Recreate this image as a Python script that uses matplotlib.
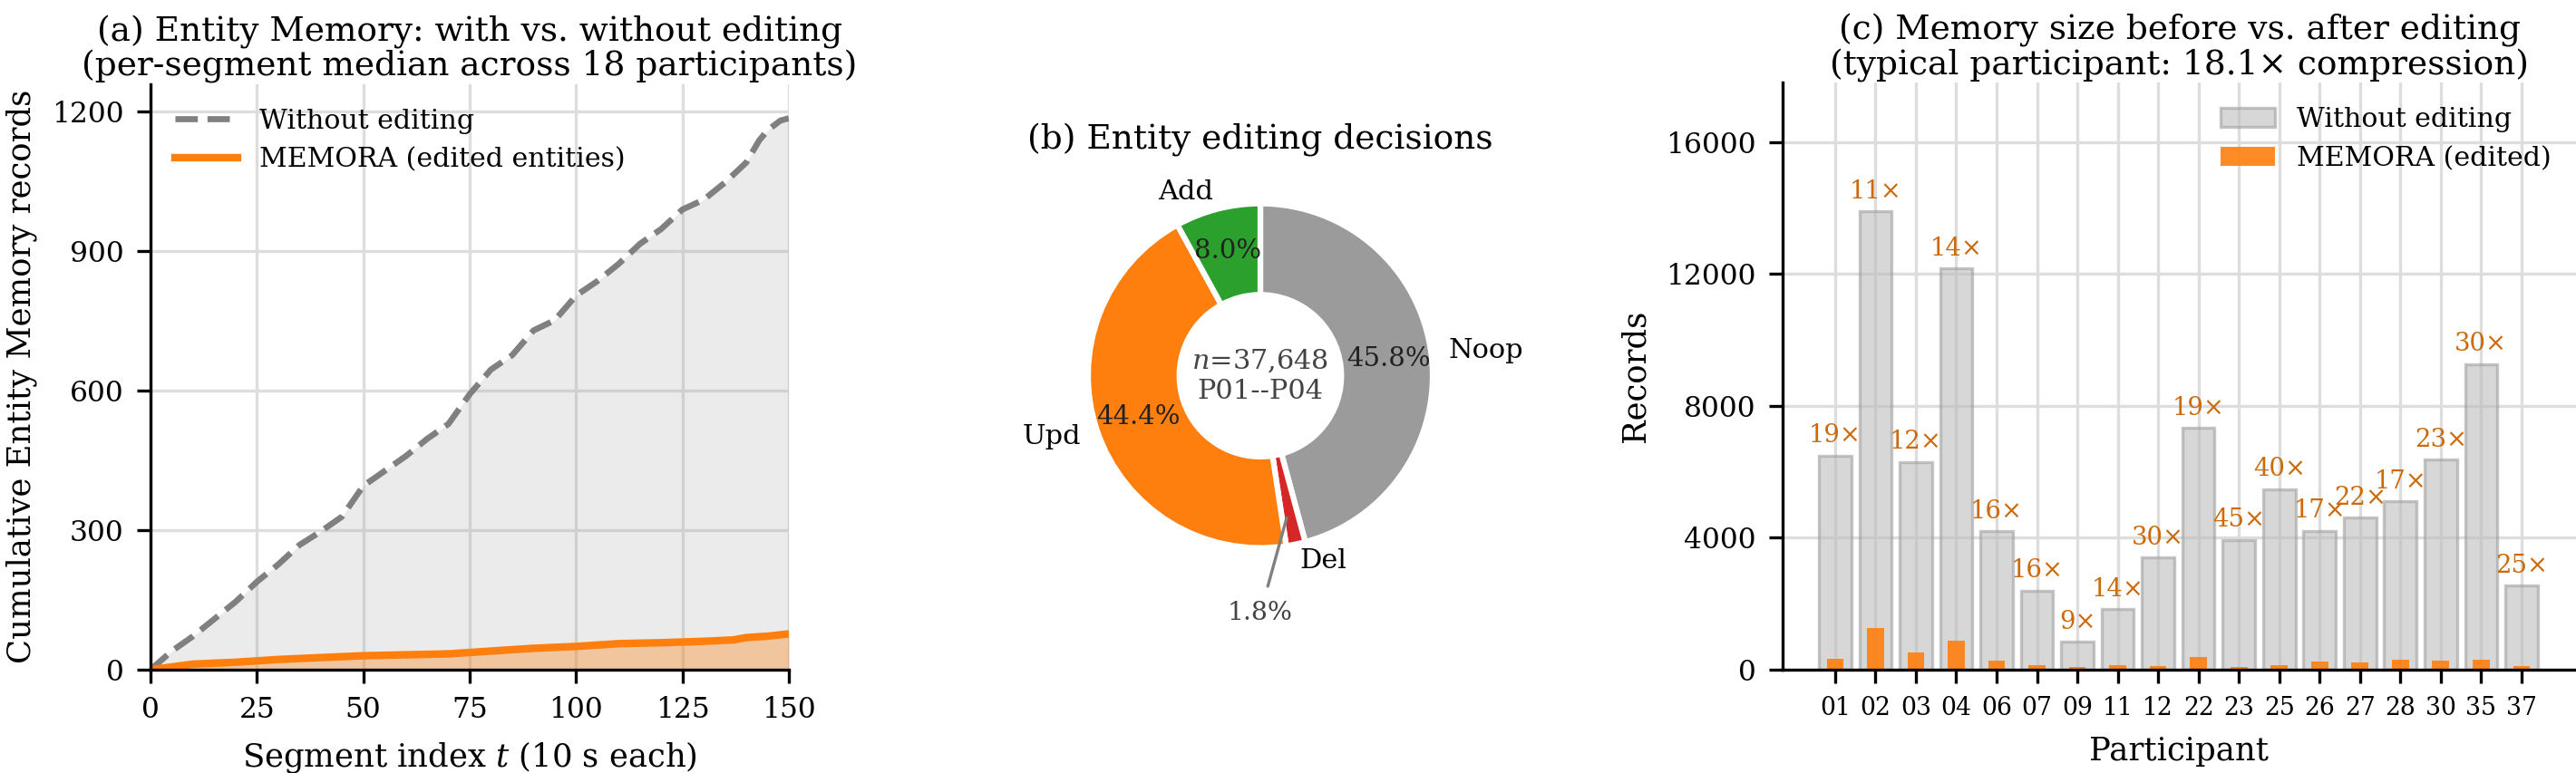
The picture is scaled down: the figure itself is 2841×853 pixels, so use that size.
import numpy as np
import matplotlib
matplotlib.use("Agg")
import matplotlib.pyplot as plt

plt.rcParams.update({
    "font.family": "serif",
    "font.serif": ["DejaVu Serif"],
    "mathtext.fontset": "dejavuserif",
    "font.size": 8,
    "axes.linewidth": 0.8,
    "xtick.direction": "out",
    "ytick.direction": "out",
    "xtick.major.width": 0.8,
    "ytick.major.width": 0.8,
    "xtick.major.size": 3.5,
    "ytick.major.size": 3.5,
    "xtick.labelsize": 7.5,
    "ytick.labelsize": 7.5,
})

# --------------------------
# Data
# --------------------------
# (a) per-segment median cumulative records
seg_without = [0, 5, 10, 15, 20, 25, 30, 35, 40, 45, 50, 55, 60, 65, 70, 75,
               80, 85, 90, 95, 100, 105, 110, 115, 120, 125, 130, 135, 140,
               143, 145, 148, 150]
rec_without = [0, 40, 72, 109, 146, 189, 226, 268, 297, 329, 395, 427, 459,
               496, 528, 592, 645, 676, 729, 751, 804, 835, 872, 915, 947,
               989, 1010, 1047, 1090, 1137, 1159, 1180, 1185]
seg_memora = [0, 10, 20, 30, 40, 50, 60, 70, 80, 90, 100, 110, 120, 130,
              137, 140, 145, 150]
rec_memora = [0, 12, 16, 22, 26, 30, 32, 34, 40, 46, 50, 56, 58, 61, 64, 69,
              72, 77]

# (b) editing decisions
decision_labels = ["Noop", "Del", "Upd", "Add"]
decision_share = [45.8, 1.8, 44.4, 8.0]
decision_colors = ["#9b9b9b", "#d62728", "#ff7f0e", "#2ca02c"]
n_decisions = "37,648"

# (c) memory size per participant
participants = ["01", "02", "03", "04", "06", "07", "09", "11", "12", "22",
                "23", "25", "26", "27", "28", "30", "35", "37"]
records_before = [6500, 13900, 6300, 12180, 4200, 2400, 840, 1840, 3400, 7340,
                  3940, 5480, 4210, 4610, 5100, 6380, 9270, 2550]
records_after = [342, 1264, 525, 870, 262, 150, 93, 131, 113, 386, 88, 137,
                 248, 210, 300, 277, 309, 102]

W, H = 2841, 853
fig = plt.figure(figsize=(W / 300, H / 300), dpi=300)

grid_kw = dict(color="#dddddd", linewidth=0.8)
title_kw = dict(fontsize=9, linespacing=1.07, pad=2)

# --------------------------
# (a) cumulative lines
# --------------------------
ax = fig.add_axes([166 / W, 1 - 739 / H, (870 - 166) / W, (739 - 92.5) / H])
ax.fill_between(seg_without, rec_without, color="#9e9e9e", alpha=0.2, lw=0)
ax.fill_between(seg_memora, rec_memora, color="#ff7f0e", alpha=0.35, lw=0)
ax.plot(seg_without, rec_without, "--", color="#808080", lw=1.6,
        label="Without editing")
ax.plot(seg_memora, rec_memora, "-", color="#ff7f0e", lw=2.0,
        label="MEMORA (edited entities)")
ax.set_xlim(0, 150)
ax.set_ylim(0, 1259)
ax.set_xticks([0, 25, 50, 75, 100, 125, 150])
ax.set_yticks([0, 300, 600, 900, 1200])
ax.grid(True, **grid_kw)
ax.set_axisbelow(True)
for s in ["top", "right"]:
    ax.spines[s].set_visible(False)
ax.set_xlabel("Segment index $t$ (10 s each)", fontsize=8.5)
ax.set_ylabel("Cumulative Entity Memory records", fontsize=8.5)
ax.set_title("(a) Entity Memory: with vs. without editing\n"
             "(per-segment median across 18 participants)", **title_kw)
ax.legend(loc="upper left", frameon=False, fontsize=7.2, handlelength=2.3)

# --------------------------
# (b) donut
# --------------------------
cx, cy, r = 1390, 414.6, 190
side = 2.5 * r
axb = fig.add_axes([(cx - side / 2) / W, 1 - (cy + side / 2) / H, side / W, side / H])
wedges, texts, autotexts = axb.pie(
    decision_share, labels=decision_labels, colors=decision_colors,
    startangle=90, counterclock=False,
    autopct=lambda p: f"{p:.1f}%" if p > 3 else "",
    pctdistance=0.75, labeldistance=1.1,
    wedgeprops=dict(width=0.53, edgecolor="white", linewidth=1.5),
    textprops=dict(fontsize=7.3))
for t in autotexts:
    t.set_color("#222222")
    t.set_fontsize(7.0)
del_w = wedges[1]
ang = np.radians((del_w.theta1 + del_w.theta2) / 2)
axb.annotate(f"{decision_share[1]:.1f}%", xy=(0.8 * np.cos(ang), 0.8 * np.sin(ang)),
             xytext=(0, -1.38), ha="center", va="center", fontsize=6.8,
             color="#444444",
             arrowprops=dict(arrowstyle="-", color="gray", lw=0.8))
axb.text(0, 0, f"$n$={n_decisions}\nP01--P04", ha="center", va="center",
         fontsize=7.3, color="#444444")
axb.set_title("(b) Entity editing decisions", fontsize=9, pad=3)

# --------------------------
# (c) bars before vs after
# --------------------------
axc = fig.add_axes([1966 / W, 1 - 739 / H, (W - 1966) / W, (739 - 91.4) / H])
x = np.arange(len(participants))
axc.bar(x, records_before, width=0.8, color="#bdbdbd", alpha=0.6,
        edgecolor="#a0a0a0", linewidth=0.8, label="Without editing")
axc.bar(x, records_after, width=0.42, color="#ff7f0e", alpha=0.9,
        label="MEMORA (edited)")
for i in range(len(participants)):
    ratio = round(records_before[i] / records_after[i])
    axc.annotate(f"{ratio}×", (x[i], records_before[i]), xytext=(0, 2),
                 textcoords="offset points", ha="center", va="bottom",
                 fontsize=6.6, color="#cc6a0a")
axc.set_xticks(x)
axc.set_xticklabels(participants)
axc.tick_params(axis="x", labelsize=6.4)
axc.set_yticks([0, 4000, 8000, 12000, 16000])
axc.set_xlim(-1.3, 18.35)
axc.set_ylim(0, 17800)
axc.grid(True, **grid_kw)
axc.set_axisbelow(True)
for s in ["top", "right"]:
    axc.spines[s].set_visible(False)
axc.set_xlabel("Participant", fontsize=8.5)
axc.set_ylabel("Records", fontsize=8.5)
axc.set_title("(c) Memory size before vs. after editing\n"
              "(typical participant: 18.1× compression)", **title_kw)
axc.legend(loc="upper right", frameon=False, fontsize=7.2)

fig.savefig("out.png", dpi=300)
